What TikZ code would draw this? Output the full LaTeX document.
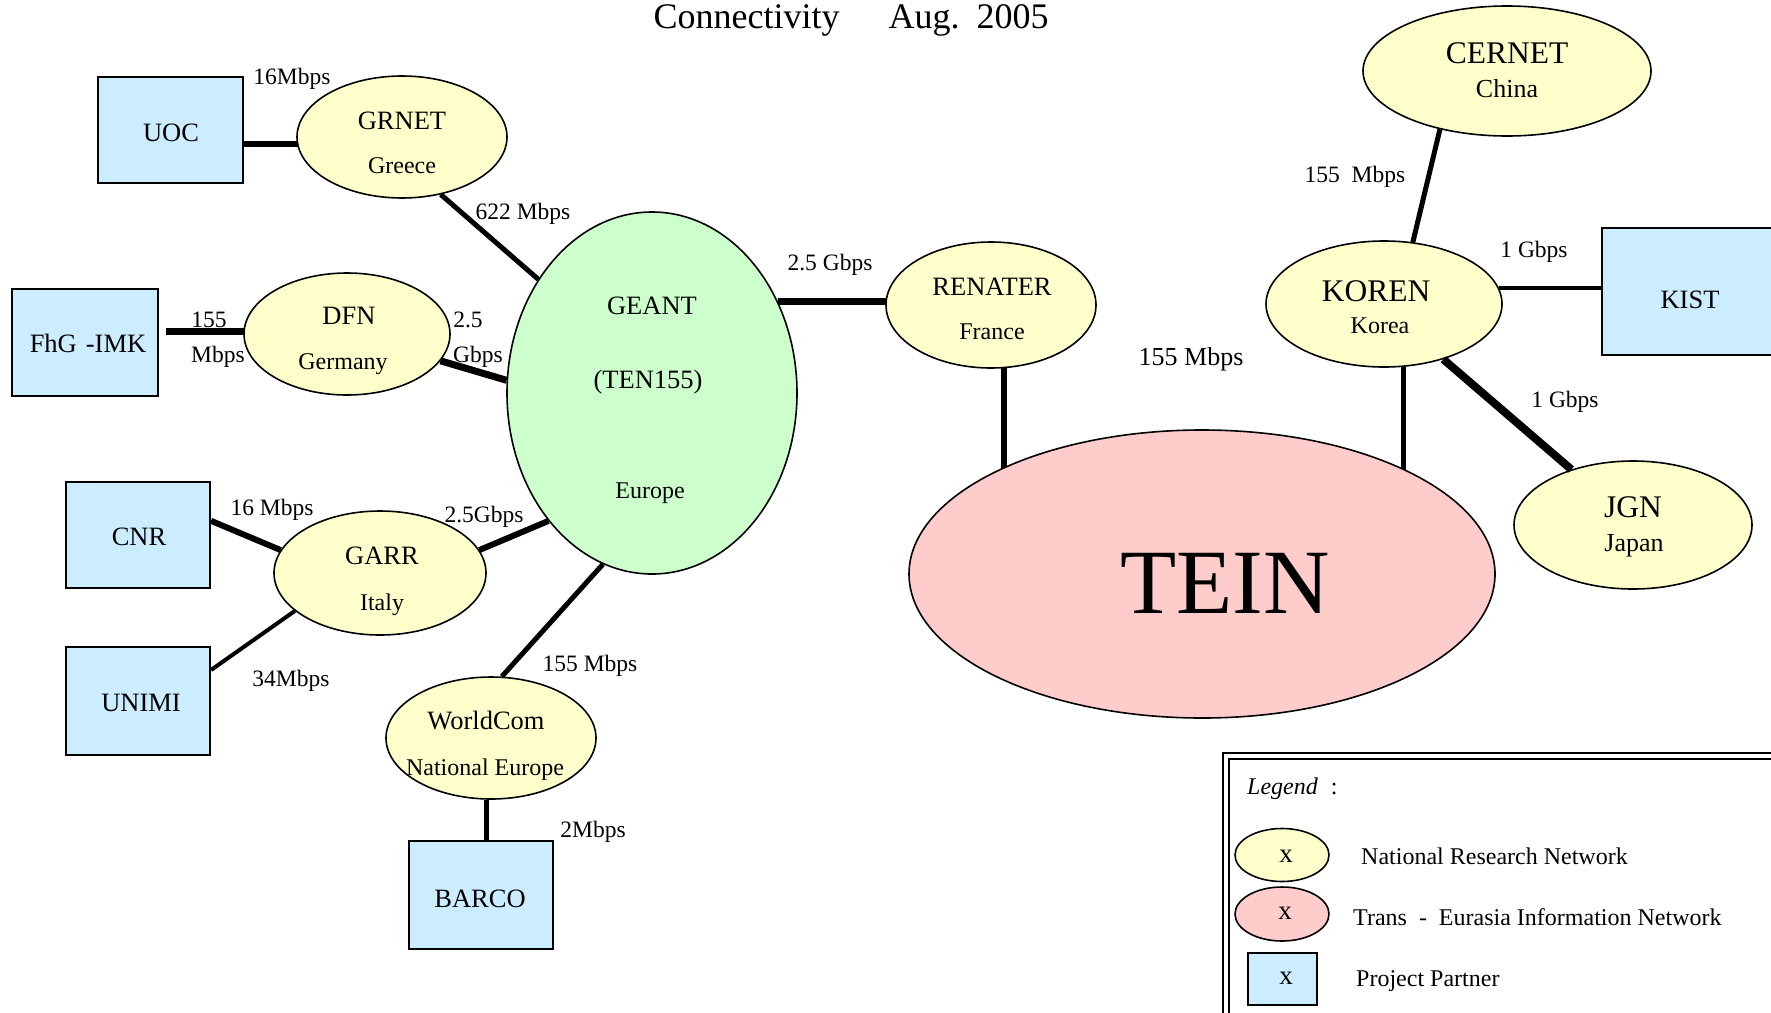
\documentclass[tikz,border=0pt]{standalone}
\usepackage{fontspec}
\setmainfont{Liberation Serif}
\usetikzlibrary{shapes.geometric}
\pgfdeclarelayer{background}
\pgfsetlayers{background,main}
\definecolor{nrnfill}{HTML}{FFFFCC}
\definecolor{geantfill}{HTML}{CCFFCC}
\definecolor{teinfill}{HTML}{FFCCCC}
\definecolor{partnerfill}{HTML}{CCECFF}
\tikzset{
  nrn/.style={ellipse, draw=black, line width=1.6pt, fill=nrnfill, inner sep=0pt},
  partner/.style={rectangle, draw=black, line width=2pt, fill=partnerfill, inner sep=0pt},
  nametxt/.style={inner sep=0pt, text height=17.5pt, text depth=0pt, font=\fontsize{26.5}{28}\selectfont},
  bignametxt/.style={inner sep=0pt, text height=21pt, text depth=0pt, font=\fontsize{31.5}{33}\selectfont},
  subtxt/.style={inner sep=0pt, text height=16pt, text depth=0pt, font=\fontsize{24}{26}\selectfont},
  subbigtxt/.style={inner sep=0pt, text height=17pt, text depth=0pt, font=\fontsize{26}{28}\selectfont},
  lbl/.style={inner sep=0pt, text height=15.6pt, text depth=0pt, font=\fontsize{23.5}{25}\selectfont},
  legtxt/.style={inner sep=0pt, text height=15.9pt, text depth=0pt, font=\fontsize{24}{26}\selectfont, anchor=west},
  xtxt/.style={inner sep=0pt, text height=12.5pt, text depth=0pt, font=\fontsize{27}{29}\selectfont},
  link/.style={line width=#1, draw=black}
}
\begin{document}
\begin{tikzpicture}[x=1pt,y=-1pt]
\useasboundingbox (0,0) rectangle (1771,1012);

% title
\node[inner sep=0pt, text height=24pt, text depth=0pt, font=\fontsize{36}{40}\selectfont] (title) at (851,16) {Connectivity\hspace{49pt}Aug.\hspace{17pt}2005};

% shapes
\node[partner, minimum width=145pt, minimum height=106pt] (uoc) at (170.5,130) {};
\node[nrn, minimum width=210pt, minimum height=122pt] (grnet) at (402,137) {};
\node[partner, minimum width=146pt, minimum height=107pt] (fhg) at (85,342) {};
\node[nrn, minimum width=206pt, minimum height=122pt] (dfn) at (347,334) {};
\node[ellipse, draw=black, line width=1.6pt, fill=geantfill, inner sep=0pt, minimum width=290pt, minimum height=362pt] (geant) at (652,393) {};
\node[nrn, minimum width=210pt, minimum height=126pt] (renater) at (991,305) {};
\node[ellipse, draw=black, line width=1.6pt, fill=teinfill, inner sep=0pt, minimum width=586pt, minimum height=288pt] (tein) at (1202,574) {};
\node[nrn, minimum width=288pt, minimum height=130pt] (cernet) at (1507,71) {};
\node[nrn, minimum width=236pt, minimum height=126pt] (koren) at (1384,304) {};
\node[partner, minimum width=176pt, minimum height=127pt] (kist) at (1690,291.5) {};
\node[nrn, minimum width=238pt, minimum height=128pt] (jgn) at (1633,525) {};
\node[partner, minimum width=144pt, minimum height=106pt] (cnr) at (138,535) {};
\node[nrn, minimum width=212pt, minimum height=124pt] (garr) at (380,573) {};
\node[partner, minimum width=144pt, minimum height=108pt] (unimi) at (138,701) {};
\node[nrn, minimum width=210pt, minimum height=122pt] (worldcom) at (491,738) {};
\node[partner, minimum width=144pt, minimum height=108pt] (barco) at (481,895) {};

% texts in shapes
\node[nametxt] (uoc-t) at (171,133) {UOC};
\node[nametxt] (grnet-t) at (402,121) {GRNET};
\node[subtxt] (grnet-s) at (402,165) {Greece};
\node[nametxt] (fhg-t) at (88,344) {FhG\hspace{9pt}-IMK};
\node[nametxt] (dfn-t) at (349,316) {DFN};
\node[subtxt] (dfn-s) at (343,361) {Germany};
\node[nametxt] (geant-t) at (652,306) {GEANT};
\node[nametxt] (geant-u) at (648,380) {(TEN155)};
\node[subtxt] (geant-s) at (650,490) {Europe};
\node[nametxt] (renater-t) at (992,287) {RENATER};
\node[subtxt] (renater-s) at (992,331) {France};
\node[inner sep=0pt, text height=61pt, text depth=0pt, font=\fontsize{92}{96}\selectfont] (tein-t) at (1225,583) {TEIN};
\node[bignametxt] (cernet-t) at (1507,53) {CERNET};
\node[subbigtxt] (cernet-s) at (1507,89) {China};
\node[bignametxt] (koren-t) at (1376,291) {KOREN};
\node[subtxt] (koren-s) at (1380,325) {Korea};
\node[nametxt] (kist-t) at (1690,300) {KIST};
\node[bignametxt] (jgn-t) at (1633,507) {JGN};
\node[subbigtxt] (jgn-s) at (1634,543) {Japan};
\node[nametxt] (cnr-t) at (139,537) {CNR};
\node[nametxt] (garr-t) at (382,556) {GARR};
\node[subtxt] (garr-s) at (382,602) {Italy};
\node[nametxt] (unimi-t) at (141,703) {UNIMI};
\node[nametxt] (worldcom-t) at (486,721) {WorldCom};
\node[subtxt] (worldcom-s) at (485,767) {National Europe};
\node[nametxt] (barco-t) at (480,899) {BARCO};

% connectors (behind the shapes)
\begin{pgfonlayer}{background}
\fill[white] (0,0) rectangle (1771,1012);
\draw[link=6pt] (uoc.-11.7) -- (uoc.-11.7 -| grnet.center);
\draw[link=5pt] (grnet.-56.8) -- (geant.135);
\draw[link=7pt] ([shift={(7pt,11pt)}]fhg.east) -- ([shift={(7pt,11pt)}]fhg.east -| dfn.center);
\draw[link=7pt] (dfn.-16.2) -- (geant.175.3);
\draw[link=7pt] (geant.36.78) -- (geant.36.78 -| renater.center);
\draw[link=6pt] (renater.-78.25) -- (renater.-78.25 |- tein.center);
\draw[link=5pt] (koren.-73.87) -- (koren.-73.87 |- tein.center);
\draw[link=5pt] (cernet.221.4) -- (koren.65.1);
\draw[link=4.5pt] (koren.8.8) -- (koren.8.8 -| kist.center);
\draw[link=6pt] (cnr.11) -- (garr.167);
\draw[link=4pt] (unimi.23.3) -- (garr.204.9);
\draw[link=6pt] (garr.13.9) -- (geant.231.7);
\draw[link=5pt] (geant.254.1) -- (worldcom.80.5);
\draw[link=5pt] (worldcom.266.3) -- (worldcom.266.3 |- barco.center);
\end{pgfonlayer}
\draw[link=8pt] (koren.-43.4) -- (jgn.138.7);

% connector labels
\node[lbl] (l-uoc) at (292,77) {16Mbps};
\node[lbl] (l-grnet) at (523,212) {622 Mbps};
\node[lbl] (l-fhg1) at (209,320) {155};
\node[lbl] (l-fhg2) at (218,355) {Mbps};
\node[lbl] (l-dfn1) at (468,320) {2.5};
\node[lbl] (l-dfn2) at (478,355) {Gbps};
\node[lbl] (l-renater) at (830,263) {2.5 Gbps};
\node[inner sep=0pt, text height=17pt, text depth=0pt, font=\fontsize{26}{28}\selectfont] (l-tein) at (1191,357) {155 Mbps};
\node[lbl] (l-cernet) at (1355,175) {155\ \ Mbps};
\node[lbl] (l-kist) at (1534,250) {1 Gbps};
\node[lbl] (l-jgn) at (1565,400) {1 Gbps};
\node[lbl] (l-cnr) at (272,508) {16 Mbps};
\node[lbl] (l-garr) at (484,515) {2.5Gbps};
\node[lbl] (l-unimi) at (291,679) {34Mbps};
\node[lbl] (l-worldcom) at (590,664) {155 Mbps};
\node[lbl] (l-barco) at (593,830) {2Mbps};

% legend
\node[rectangle, draw=black, line width=2pt, double, double distance=3.5pt, inner sep=0pt, minimum width=600pt, minimum height=320pt, anchor=north west] (legend) at (1225,755) {};
\node[legtxt] (leg-title) at (1247,787) {\textit{Legend}\hspace{13pt}:};
\node[nrn, minimum width=94pt, minimum height=53pt] (leg-nrn) at (1282,855) {};
\node[xtxt] (leg-nrn-x) at (1286,856) {x};
\node[legtxt] (leg-nrn-t) at (1361,857) {National Research Network};
\node[ellipse, draw=black, line width=1.6pt, fill=teinfill, inner sep=0pt, minimum width=94pt, minimum height=54pt] (leg-tein) at (1282,914) {};
\node[xtxt] (leg-tein-x) at (1285,913) {x};
\node[legtxt] (leg-tein-t) at (1353,918) {Trans\ \ -\ \ Eurasia Information Network};
\node[partner, minimum width=69pt, minimum height=52pt] (leg-partner) at (1282,979) {};
\node[xtxt] (leg-partner-x) at (1286,978) {x};
\node[legtxt] (leg-partner-t) at (1356,979) {Project Partner};
\end{tikzpicture}
\end{document}
